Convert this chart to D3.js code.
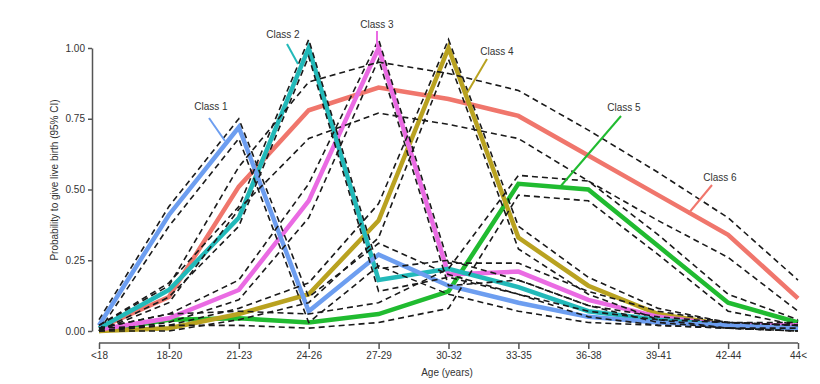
<!DOCTYPE html>
<html>
<head>
<meta charset="utf-8">
<script src="https://cdn.jsdelivr.net/npm/d3@7"></script>
<style>
  body { margin: 0; background: #fff; }
  text { font-family: "Liberation Sans", Arial, sans-serif; }
</style>
</head>
<body>
<div id="plot-container"></div>
<script>
// chart data
var ageGroups = ["<18", "18-20", "21-23", "24-26", "27-29", "30-32", "33-35", "36-38", "39-41", "42-44", "44<"];
var yTicks = [0, 0.25, 0.5, 0.75, 1];

var class1   = [0.02, 0.41, 0.72, 0.07, 0.27, 0.16, 0.10, 0.05, 0.03, 0.02, 0.01];
var class1Lo = [0.00, 0.37, 0.68, 0.03, 0.23, 0.13, 0.07, 0.03, 0.02, 0.01, 0.00];
var class1Hi = [0.04, 0.44, 0.75, 0.12, 0.31, 0.20, 0.13, 0.07, 0.04, 0.03, 0.02];

var class2   = [0.01, 0.145, 0.40, 1.00, 0.18, 0.22, 0.155, 0.07, 0.04, 0.02, 0.01];
var class2Lo = [0.00, 0.12, 0.37, 0.97, 0.14, 0.19, 0.13, 0.05, 0.02, 0.01, 0.00];
var class2Hi = [0.02, 0.17, 0.44, 1.03, 0.22, 0.25, 0.18, 0.09, 0.05, 0.03, 0.02];

var class3   = [0.005, 0.045, 0.145, 0.46, 1.00, 0.20, 0.21, 0.11, 0.05, 0.02, 0.02];
var class3Lo = [0.00, 0.03, 0.11, 0.40, 0.96, 0.16, 0.18, 0.09, 0.03, 0.01, 0.01];
var class3Hi = [0.01, 0.06, 0.18, 0.52, 1.03, 0.24, 0.24, 0.14, 0.07, 0.03, 0.03];

var class4   = [0.00, 0.01, 0.06, 0.13, 0.39, 1.00, 0.33, 0.16, 0.06, 0.02, 0.01];
var class4Lo = [0.00, 0.00, 0.04, 0.10, 0.33, 0.96, 0.29, 0.13, 0.04, 0.01, 0.00];
var class4Hi = [0.01, 0.02, 0.08, 0.17, 0.45, 1.03, 0.37, 0.19, 0.08, 0.03, 0.02];

var class5   = [0.00, 0.04, 0.045, 0.03, 0.06, 0.14, 0.52, 0.50, 0.30, 0.10, 0.03];
var class5Lo = [0.00, 0.02, 0.02, 0.01, 0.03, 0.08, 0.48, 0.46, 0.27, 0.07, 0.02];
var class5Hi = [0.01, 0.06, 0.07, 0.06, 0.10, 0.22, 0.55, 0.53, 0.34, 0.13, 0.04];

var class6   = [0.01, 0.12, 0.51, 0.78, 0.86, 0.82, 0.76, 0.62, 0.48, 0.34, 0.115];
var class6Lo = [0.00, 0.10, 0.43, 0.68, 0.77, 0.73, 0.68, 0.53, 0.39, 0.26, 0.07];
var class6Hi = [0.02, 0.16, 0.58, 0.88, 0.95, 0.91, 0.85, 0.71, 0.56, 0.40, 0.18];

var classNames = ["Class 1", "Class 2", "Class 3", "Class 4", "Class 5", "Class 6"];
var colors = ["#6d9ef0", "#22b9b9", "#ea6be3", "#b9a220", "#20bb30", "#f0766c"];

var series = [
  {name: classNames[0], color: colors[0], v: class1, lo: class1Lo, hi: class1Hi},
  {name: classNames[1], color: colors[1], v: class2, lo: class2Lo, hi: class2Hi},
  {name: classNames[2], color: colors[2], v: class3, lo: class3Lo, hi: class3Hi},
  {name: classNames[3], color: colors[3], v: class4, lo: class4Lo, hi: class4Hi},
  {name: classNames[4], color: colors[4], v: class5, lo: class5Lo, hi: class5Hi},
  {name: classNames[5], color: colors[5], v: class6, lo: class6Lo, hi: class6Hi}
];

// label positions and leader lines (text x,y ; line x1,y1 -> x2,y2)
var labelPos = [
  [211, 110, 209, 118, 225, 141],
  [283, 38, 287, 44, 298, 64],
  [377, 28, 377, 31, 377, 47],
  [497, 55, 487, 59, 467, 93],
  [624, 111, 621, 116, 560, 187],
  [720, 181, 712, 185, 688, 214]
];

var width = 820, height = 384;

var x = d3.scalePoint().domain(ageGroups).range([99, 798]);
var y = d3.scaleLinear().domain([0, 1]).range([331, 48]);

var svg = d3.select("#plot-container")
  .append("svg")
  .attr("width", width)
  .attr("height", height);

var line = d3.line()
  .x(function(d, i){ return x(ageGroups[i]); })
  .y(function(d){ return y(d); });

// y axis
var yAxis = svg.append("g")
  .attr("transform", "translate(92,0)")
  .call(d3.axisLeft(y).tickValues(yTicks).tickFormat(d3.format(".2f")).tickSize(4).tickSizeOuter(0));

// x axis
var xAxis = svg.append("g")
  .attr("transform", "translate(0,343)")
  .call(d3.axisBottom(x).tickSize(6).tickSizeOuter(0));

[yAxis, xAxis].forEach(function(ax){
  ax.select(".domain").attr("stroke", "#555").attr("stroke-width", 1.5);
  ax.selectAll(".tick line").attr("stroke", "#555").attr("stroke-width", 1.5);
  ax.selectAll(".tick text").attr("fill", "#333").style("font-size", "10px");
});
xAxis.select(".domain").attr("d", "M99,0H798");

// axis titles
svg.append("text")
  .attr("x", 447).attr("y", 376)
  .attr("text-anchor", "middle")
  .attr("fill", "#333")
  .style("font-size", "10px")
  .text("Age (years)");

svg.append("text")
  .attr("transform", "translate(58,180) rotate(-90)")
  .attr("text-anchor", "middle")
  .attr("fill", "#333")
  .style("font-size", "10px")
  .text("Probability to give live birth (95% CI)");

// coloured class lines (class 6 at the back)
series.slice().reverse().forEach(function(s){
  svg.append("path")
    .datum(s.v)
    .attr("d", line)
    .attr("fill", "none")
    .attr("stroke", s.color)
    .attr("stroke-width", 4.5)
    .attr("stroke-linejoin", "miter");
});

// dashed confidence limits on top
series.forEach(function(s){
  [s.lo, s.hi].forEach(function(b){
    svg.append("path")
      .datum(b)
      .attr("d", line)
      .attr("fill", "none")
      .attr("stroke", "#1a1a1a")
      .attr("stroke-width", 1.6)
      .attr("stroke-dasharray", "6,4");
  });
});

// class labels with leader lines
series.forEach(function(s, i){
  var p = labelPos[i];
  svg.append("line")
    .attr("x1", p[2]).attr("y1", p[3])
    .attr("x2", p[4]).attr("y2", p[5])
    .attr("stroke", s.color)
    .attr("stroke-width", 2);
  svg.append("text")
    .attr("x", p[0]).attr("y", p[1])
    .attr("text-anchor", "middle")
    .attr("fill", "#333")
    .style("font-size", "10px")
    .text(s.name);
});
</script>
</body>
</html>
